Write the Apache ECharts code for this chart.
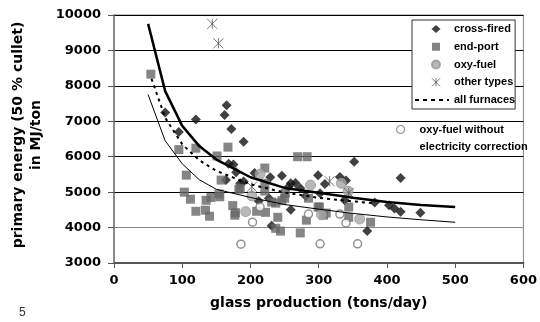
<!DOCTYPE html>
<html>
<head>
<meta charset="utf-8">
<script src="https://cdn.jsdelivr.net/npm/echarts@6/dist/echarts.min.js"></script>
<style>
  html, body { margin: 0; padding: 0; background: #fff; }
  #chart { width: 540px; height: 322px; }
</style>
</head>
<body>
<div id="chart"></div>
<script>
// Furnace energy use vs. glass production, [tons/day, MJ/ton]
const crossFired = [
  [75, 7250], [95, 6700], [120, 7050], [165, 7450], [162, 7180], [172, 6780],
  [190, 6420], [168, 5800], [175, 5780], [164, 5340], [179, 5560], [185, 5250],
  [206, 5540], [229, 5420], [246, 5460], [259, 5250], [266, 5260], [256, 5150],
  [299, 5480], [309, 5230], [331, 5430], [340, 5330], [212, 4750], [227, 4830],
  [259, 4500], [231, 4050], [273, 5110], [281, 4890], [302, 4970], [338, 4770],
  [352, 5860], [420, 5400], [382, 4710], [403, 4630], [411, 4540], [420, 4450],
  [449, 4420], [371, 3900], [190, 5300]
];
const endPort = [
  [54, 8330], [95, 6200], [120, 6240], [167, 6270], [151, 6020], [106, 5480],
  [157, 5340], [183, 5080], [221, 5680], [221, 5250], [221, 5030], [103, 5000],
  [112, 4800], [135, 4770], [142, 4850], [155, 4870], [154, 4950], [174, 4620],
  [120, 4460], [134, 4490], [140, 4320], [177, 4350], [178, 4420], [209, 4460],
  [222, 4430], [240, 4290], [237, 3980], [244, 3900], [231, 4720], [246, 4760],
  [251, 4970], [269, 6000], [283, 6000], [273, 3850], [282, 4210], [285, 4830],
  [301, 4580], [307, 4350], [311, 4410], [299, 4580], [344, 4580], [344, 4290],
  [376, 4150], [185, 5110], [237, 4690], [250, 4830]
];
const oxyFuel = [
  [214, 5510], [202, 4890], [193, 4450], [288, 5200], [304, 4360], [333, 5250],
  [343, 5030], [360, 4240]
];
const otherTypes = [
  [144, 9750], [153, 9200], [202, 5150], [316, 5310], [344, 4980]
];
const oxyFuelNoElec = [
  [186, 3530], [203, 4150], [214, 4580], [285, 4380], [302, 3540], [331, 4380],
  [340, 4130], [357, 3540]
];
// Fitted curves
const allFurnaces = [
  [55, 8200], [75, 7100], [100, 6350], [125, 5900], [150, 5600], [200, 5220],
  [250, 4990], [300, 4840], [350, 4740], [380, 4690]
];
const upperCurve = [
  [50, 9750], [75, 7850], [100, 6870], [125, 6300], [150, 5920], [200, 5420],
  [250, 5120], [300, 4980], [350, 4840], [400, 4720], [450, 4640], [500, 4580]
];
const lowerCurve = [
  [50, 7750], [75, 6450], [100, 5800], [125, 5350], [150, 5080], [200, 4850],
  [250, 4650], [300, 4520], [350, 4400], [400, 4300], [450, 4220], [500, 4150]
];
const yTicks = { min: 3000, max: 10000, step: 1000 };
const xTicks = { min: 0, max: 600, step: 100 };

const asterisk = 'path://M0,0L10,10M10,0L0,10M5,0L5,10';
// Legend icons: each path spans a 35x8 box so the glyph keeps its shape
const box = 'M0,0M35,8';
const legendIcons = {
  diamond: 'path://' + box + 'M22,0L26.5,4L22,8L17.5,4Z',
  square: 'path://' + box + 'M18,0H26V8H18Z',
  circle: 'path://' + box + 'M18,4A4,4 0 1,1 26,4A4,4 0 1,1 18,4Z',
  star: 'path://' + box + 'M18,0L26,8M26,0L18,8M22,0L22,8',
  dashes: 'path://' + box + 'M1,3H5V5H1ZM9,3H13V5H9ZM17,3H21V5H17ZM25,3H29V5H25ZM33,3H35V5H33Z',
  ring: 'path://M0,0M18,8M0,4A4,4 0 1,1 8,4A4,4 0 1,1 0,4Z'
};
const axisFont = 'DejaVu Sans';
const legendFont = 'Liberation Sans';

const chart = echarts.init(document.getElementById('chart'), null, { renderer: 'canvas' });
chart.setOption({
  animation: false,
  backgroundColor: '#fff',
  title: {
    text: '5', left: 14, top: 302,
    textStyle: { fontFamily: legendFont, fontSize: 12, fontWeight: 'normal', color: '#333' }
  },
  grid: {
    left: 114, right: 13, top: 15, bottom: 59,
    show: true, borderColor: '#888', borderWidth: 1, backgroundColor: 'transparent'
  },
  xAxis: {
    type: 'value', min: xTicks.min, max: xTicks.max, interval: xTicks.step,
    name: 'glass production (tons/day)', nameLocation: 'middle', nameGap: 33,
    nameTextStyle: { fontFamily: axisFont, fontSize: 14, fontWeight: 'bold', color: '#000' },
    axisLine: { show: true, onZero: false, lineStyle: { color: '#555', width: 2 } },
    axisTick: { show: true, length: 5, lineStyle: { color: '#555' } },
    axisLabel: { margin: 11, fontFamily: axisFont, fontSize: 13, fontWeight: 'bold', color: '#000' },
    splitLine: { show: false }
  },
  yAxis: {
    type: 'value', min: yTicks.min, max: yTicks.max, interval: yTicks.step,
    name: 'primary energy (50 % cullet)\nin MJ/ton', nameLocation: 'middle', nameGap: 67,
    nameTextStyle: { fontFamily: axisFont, fontSize: 14, fontWeight: 'bold', color: '#000',
                     lineHeight: 18, padding: [0, 0, 0, 8] },
    axisLine: { show: true, lineStyle: { color: '#777', width: 1.5 } },
    axisTick: { show: true, length: 6, lineStyle: { color: '#555' } },
    axisLabel: { margin: 13, fontFamily: axisFont, fontSize: 13, fontWeight: 'bold', color: '#000',
                 formatter: v => String(v) },
    splitLine: {
      show: true,
      lineStyle: { width: 1, color: ['#555', '#888', '#000', '#000', '#000', '#000', '#000', '#000'] }
    }
  },
  legend: [
    {
      orient: 'vertical', left: 412, top: 20,
      padding: [3, 0, 3, 1], itemGap: 5.75, itemWidth: 35, itemHeight: 8,
      backgroundColor: '#fff', borderColor: '#333', borderWidth: 1,
      textStyle: { fontFamily: legendFont, fontSize: 11, fontWeight: 'bold', color: '#000', lineHeight: 12 },
      data: [
        { name: 'cross-fired', icon: legendIcons.diamond },
        { name: 'end-port', icon: legendIcons.square },
        { name: 'oxy-fuel', icon: legendIcons.circle },
        { name: 'other types', icon: legendIcons.star,
          itemStyle: { color: 'rgba(0,0,0,0)', borderColor: '#555', borderWidth: 1 } },
        { name: 'all furnaces', icon: legendIcons.dashes, itemStyle: { color: '#000', borderWidth: 0 } }
      ]
    },
    {
      orient: 'vertical', left: 396, top: 104,
      padding: 0, itemWidth: 18, itemHeight: 8,
      formatter: name => ' \n' + name,
      textStyle: { fontFamily: legendFont, fontSize: 11, fontWeight: 'bold', color: '#000', lineHeight: 17 },
      data: [{ name: 'oxy-fuel without\nelectricity correction', icon: legendIcons.ring,
               itemStyle: { color: '#fff', borderColor: '#777', borderWidth: 1.2 } }]
    }
  ],
  series: [
    {
      name: 'cross-fired', type: 'scatter', data: crossFired, z: 2,
      symbol: 'diamond', symbolSize: 10,
      itemStyle: { color: '#111' }
    },
    {
      name: 'end-port', type: 'scatter', data: endPort, z: 2,
      symbol: 'rect', symbolSize: 9,
      itemStyle: { color: '#666' }
    },
    {
      name: 'oxy-fuel', type: 'scatter', data: oxyFuel, z: 2,
      symbol: 'circle', symbolSize: 10,
      itemStyle: { color: '#a8a8a8', borderColor: '#999', borderWidth: 1 }
    },
    {
      name: 'other types', type: 'scatter', data: otherTypes, z: 2,
      symbol: asterisk, symbolSize: 10,
      itemStyle: { color: 'rgba(0,0,0,0)', borderColor: '#555', borderWidth: 1 }
    },
    {
      name: 'oxy-fuel without\nelectricity correction', type: 'scatter', data: oxyFuelNoElec, z: 2,
      symbol: 'circle', symbolSize: 8,
      itemStyle: { color: '#fff', borderColor: '#777', borderWidth: 1.5 }
    },
    {
      name: 'all furnaces', type: 'line', data: allFurnaces, z: 3,
      showSymbol: false, symbol: 'none',
      lineStyle: { color: '#000', width: 2, type: [3, 4] },
      itemStyle: { color: '#000' }
    },
    {
      name: 'upper curve', type: 'line', data: upperCurve, z: 3,
      showSymbol: false, symbol: 'none',
      lineStyle: { color: '#000', width: 2.5 }
    },
    {
      name: 'lower curve', type: 'line', data: lowerCurve, z: 3,
      showSymbol: false, symbol: 'none',
      lineStyle: { color: '#000', width: 1 }
    }
  ]
});
</script>
</body>
</html>
